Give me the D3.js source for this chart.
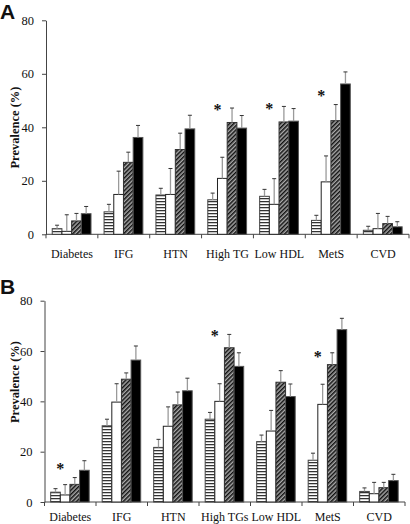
<!DOCTYPE html>
<html>
<head>
<meta charset="utf-8">
<script src="https://cdn.jsdelivr.net/npm/d3@7"></script>
<style>
  html, body { margin: 0; padding: 0; background: #fff; }
  svg { display: block; }
  text { font-family: "Liberation Serif", "Times New Roman", "DejaVu Serif", serif; fill: #111; }
</style>
</head>
<body>
<svg id="chart" width="410" height="524"></svg>
<script>
// ---------- DATA ----------
const categoriesA = ["Diabetes", "IFG", "HTN", "High TG", "Low HDL", "MetS", "CVD"];
const categoriesB = ["Diabetes", "IFG", "HTN", "High TGs", "Low HDL", "MetS", "CVD"];
const seriesNames = ["Group 1", "Group 2", "Group 3", "Group 4"];
const yTicks = [0, 20, 40, 60, 80];

// Panel A: prevalence (%) and error (upper SE)
const a1 = [2.1, 8.4, 14.7, 12.9, 14.2, 5.2, 1.5];
const a2 = [1.1, 14.9, 14.9, 20.9, 11.2, 19.6, 2.1];
const a3 = [5.0, 26.9, 31.7, 41.8, 42.0, 42.5, 4.0];
const a4 = [7.7, 36.2, 39.4, 39.7, 42.3, 56.2, 2.8];
const aErr1 = [1.3, 2.8, 2.5, 2.5, 2.6, 1.9, 1.5];
const aErr2 = [6.2, 8.7, 9.7, 7.9, 9.6, 9.7, 5.7];
const aErr3 = [2.8, 3.8, 6.1, 5.4, 5.8, 6.0, 2.7];
const aErr4 = [2.7, 4.5, 5.1, 4.7, 4.7, 4.5, 1.9];
const starsA = [
  { category: "High TG", value: 47.5 },
  { category: "Low HDL", value: 47.8 },
  { category: "MetS", value: 52.5 }
];

// Panel B
const b1 = [3.9, 30.3, 21.7, 32.9, 24.0, 16.6, 4.2];
const b2 = [2.8, 39.7, 30.1, 40.0, 28.2, 38.8, 3.3];
const b3 = [7.0, 48.8, 38.6, 61.3, 47.6, 54.6, 5.7];
const b4 = [12.6, 56.4, 44.2, 53.9, 41.9, 68.5, 8.5];
const bErr1 = [1.4, 2.6, 3.2, 2.7, 2.6, 2.8, 1.4];
const bErr2 = [4.1, 7.3, 7.7, 7.0, 8.2, 8.0, 4.5];
const bErr3 = [2.7, 2.5, 5.1, 5.3, 4.6, 4.7, 2.1];
const bErr4 = [3.8, 5.6, 5.0, 5.4, 5.0, 4.5, 2.5];
const starsB = [
  { category: "Diabetes", value: 14.2 },
  { category: "High TGs", value: 66.9 },
  { category: "MetS", value: 58.6 }
];

// ---------- DRAWING ----------
const svg = d3.select("#chart");
const defs = svg.append("defs");
const SERIF = "'Liberation Serif', 'Times New Roman', 'DejaVu Serif', serif";

// horizontal stripes
const pStripe = defs.append("pattern").attr("id", "stripe")
  .attr("patternUnits", "userSpaceOnUse").attr("width", 4).attr("height", 3);
pStripe.append("rect").attr("width", 4).attr("height", 3).attr("fill", "#fff");
pStripe.append("rect").attr("y", 0).attr("width", 4).attr("height", 1).attr("fill", "#333");
pStripe.append("rect").attr("y", 1).attr("width", 4).attr("height", 1).attr("fill", "#c8c8c8");

// diagonal hatch
const pHatch = defs.append("pattern").attr("id", "hatch")
  .attr("patternUnits", "userSpaceOnUse").attr("width", 3).attr("height", 3)
  .attr("patternTransform", "rotate(45)");
pHatch.append("rect").attr("width", 3).attr("height", 3).attr("fill", "#aaaaaa");
pHatch.append("rect").attr("x", 0).attr("width", 1.5).attr("height", 3).attr("fill", "#111");

const fills = ["url(#stripe)", "#fff", "url(#hatch)", "#000"];
const strokes = ["#444", "#222", "#333", "#555"];

function drawPanel(cfg) {
  const g = svg.append("g");
  const x = d3.scaleBand().domain(cfg.cats).range([cfg.x0, cfg.x1]).padding(0);
  const bw = x.bandwidth();
  const inner = d3.scaleBand().domain(seriesNames).range([bw * 0.12, bw * 0.868]).padding(0);
  const y = d3.scaleLinear().domain([0, 80]).range([cfg.yBottom, cfg.yTop]);

  // y axis
  const yAxis = g.append("g").attr("transform", `translate(${cfg.x0},0)`)
    .call(d3.axisLeft(y).tickValues(yTicks).tickSize(4).tickPadding(8).tickSizeOuter(0));
  yAxis.attr("font-family", SERIF);
  yAxis.select(".domain").attr("stroke", "#444");
  yAxis.selectAll(".tick line").attr("stroke", "#444");
  yAxis.selectAll(".tick text")
    .style("font-family", SERIF).style("font-size", "12.5px").attr("fill", "#111");

  // x axis line + boundary ticks
  g.append("line").attr("x1", cfg.x0).attr("x2", cfg.x1)
    .attr("y1", y(0)).attr("y2", y(0)).attr("stroke", "#444");
  const bounds = cfg.cats.map(c => x(c)).concat([x(cfg.cats[cfg.cats.length - 1]) + bw]);
  g.selectAll(".xtick").data(bounds).join("line")
    .attr("x1", d => d).attr("x2", d => d)
    .attr("y1", y(0)).attr("y2", y(0) + 4).attr("stroke", "#444");

  // x labels
  g.selectAll(".xlab").data(cfg.cats).join("text")
    .attr("x", d => x(d) + bw / 2).attr("y", cfg.labelY)
    .attr("text-anchor", "middle").style("font-size", "12px").text(d => d);

  // bars
  const rows = [];
  cfg.vals.forEach((arr, si) => arr.forEach((v, ci) => {
    rows.push({ s: si, c: cfg.cats[ci], v: v, e: cfg.errs[si][ci] });
  }));

  g.selectAll(".bar").data(rows).join("rect")
    .attr("x", d => x(d.c) + inner(seriesNames[d.s]))
    .attr("y", d => y(d.v))
    .attr("width", inner.bandwidth())
    .attr("height", d => y(0) - y(d.v))
    .attr("fill", d => fills[d.s])
    .attr("stroke", d => strokes[d.s])
    .attr("stroke-width", 1);

  // error bars
  const cx = d => x(d.c) + inner(seriesNames[d.s]) + inner.bandwidth() / 2;
  g.selectAll(".err").data(rows).join("line")
    .attr("x1", cx).attr("x2", cx)
    .attr("y1", d => y(d.v)).attr("y2", d => y(d.v + d.e))
    .attr("stroke", "#9a9a9a").attr("stroke-width", 1.3);
  g.selectAll(".cap").data(rows).join("line")
    .attr("x1", d => cx(d) - 2).attr("x2", d => cx(d) + 2)
    .attr("y1", d => y(d.v + d.e)).attr("y2", d => y(d.v + d.e))
    .attr("stroke", "#333").attr("stroke-width", 1);

  // asterisks
  g.selectAll(".star").data(cfg.stars).join("text")
    .attr("x", d => x(d.category) + inner(seriesNames[1]))
    .attr("y", d => y(d.value) + 7.5)
    .attr("text-anchor", "middle")
    .style("font-size", "16px").style("font-weight", "bold")
    .text("*");

  // y title
  g.append("text")
    .attr("transform", `translate(${cfg.titleX},${cfg.titleY}) rotate(-90)`)
    .attr("text-anchor", "middle")
    .style("font-size", "12.5px").style("font-weight", "bold")
    .text("Prevalence (%)");

  // panel letter
  g.append("text").attr("x", 0).attr("y", cfg.letterY)
    .style("font-family", "'Liberation Sans', Arial, sans-serif")
    .style("font-size", "21px").style("font-weight", "bold").attr("fill", "#000")
    .text(cfg.letter);
}

drawPanel({
  x0: 46, x1: 409, yTop: 20.3, yBottom: 234.3,
  cats: categoriesA,
  vals: [a1, a2, a3, a4], errs: [aErr1, aErr2, aErr3, aErr4],
  stars: starsA, letter: "A", letterY: 18.5, labelY: 257.5,
  titleX: 19, titleY: 127.5
});

drawPanel({
  x0: 44.5, x1: 405, yTop: 300.7, yBottom: 502,
  cats: categoriesB,
  vals: [b1, b2, b3, b4], errs: [bErr1, bErr2, bErr3, bErr4],
  stars: starsB, letter: "B", letterY: 293.5, labelY: 521,
  titleX: 19, titleY: 382
});
</script>
</body>
</html>
